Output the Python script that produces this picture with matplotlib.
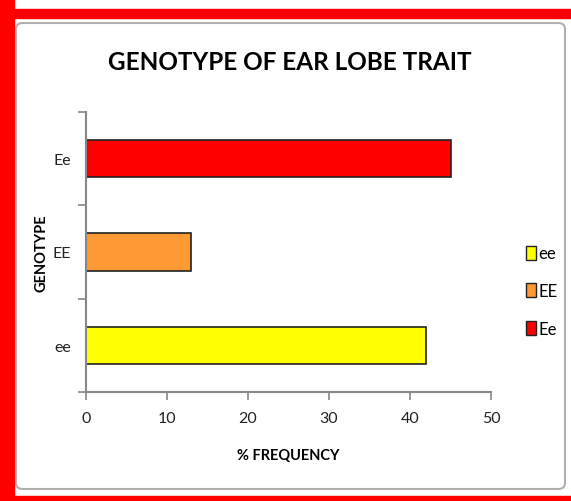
import matplotlib.pyplot as plt
from matplotlib.patches import Rectangle, FancyBboxPatch, Patch

# data
genotypes = ["ee", "EE", "Ee"]
freq_pct = [42, 13, 45]
bar_colors = ["#FFFF00", "#FF9933", "#FF0000"]

FONT = ["Liberation Sans Narrow", "Lato", "DejaVu Sans"]
plt.rcParams["font.family"] = FONT

fig = plt.figure(figsize=(5.71, 5.02), dpi=100)
fig.patch.set_facecolor("white")

# screenshot frame: red bands + grey rounded chart box
frame = [
    Rectangle((0, 0), 14 / 571, 1, color="#FF0000"),
    Rectangle((0, 1 - 19 / 502), 1, 9 / 502, color="#FF0000"),
    Rectangle((0, 0), 1, 5 / 502, color="#FF0000"),
    FancyBboxPatch((16 / 571, 12 / 502), 549 / 571, 466 / 502,
                   boxstyle="round,pad=0,rounding_size=0.012",
                   facecolor="white", edgecolor="#B0B0B0", linewidth=1.5),
]
for p in frame:
    p.set_transform(fig.transFigure)
    p.set_zorder(-5)
    fig.patches.append(p)

ax = fig.add_axes([86 / 571, 1 - 393 / 502, 405 / 571, 280 / 502])
ax.set_facecolor("none")
y = list(range(len(genotypes)))
ax.barh(y, freq_pct, height=0.4, color=bar_colors, edgecolor="#222222", linewidth=1.2)

ax.set_xlim(0, 50)
ax.set_ylim(-0.5, 2.5)
ax.set_xticks(range(0, 51, 10))
ax.set_yticks([-0.5, 0.5, 1.5, 2.5])
ax.set_yticklabels([])
ax.set_yticks(y, minor=True)
ax.set_yticklabels(genotypes, minor=True)
ax.tick_params(axis="y", which="minor", length=0, pad=11, labelsize=11.5,
               labelcolor="#222222")
ax.tick_params(axis="both", which="major", color="#888888", length=6, width=1.2,
               labelsize=11.5, labelcolor="#222222")
ax.tick_params(axis="x", pad=8)
for s in ["top", "right"]:
    ax.spines[s].set_visible(False)
for s in ["left", "bottom"]:
    ax.spines[s].set_color("#888888")
    ax.spines[s].set_linewidth(1.5)

ax.set_xlabel("% FREQUENCY", fontsize=10.5, fontweight="bold", labelpad=16)
ax.set_ylabel("GENOTYPE", fontsize=10.5, fontweight="bold")
ax.yaxis.set_label_coords(-0.092, 0.5)

fig.text(290 / 571, 1 - 63 / 502, "GENOTYPE OF EAR LOBE TRAIT",
         ha="center", va="center", fontsize=17.5, fontweight="bold")

handles = [Patch(facecolor=c, edgecolor="#222222", linewidth=1) for c in bar_colors]
fig.legend(handles, genotypes, loc="center left",
           bbox_to_anchor=(519 / 571, 1 - 292 / 502), frameon=False,
           fontsize=12, handlelength=0.6, handleheight=0.9, handletextpad=0.15,
           labelspacing=1.3, borderaxespad=0)

fig.savefig("out.png", dpi=100)
